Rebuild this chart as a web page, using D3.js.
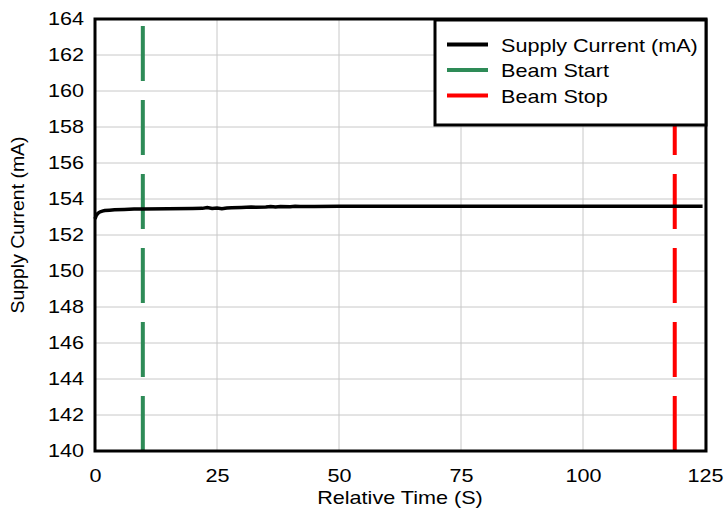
<!DOCTYPE html>
<html><head><meta charset="utf-8">
<script src="https://cdn.jsdelivr.net/npm/d3@7"></script>
<style>body{margin:0;background:#fff}svg{display:block;font-family:"Liberation Sans",Arial,sans-serif}</style>
</head><body><svg id="c" width="726" height="512"></svg>
<script>
const timeS = [0,0.3,0.6,1,1.5,2,3,4,6,8,10,15,20,22,23,24,25,26,27,28,30,32,33,35,36,37,38,40,41,42,45,50,60,70,80,90,100,110,118,124.5];
const currentMA = [152.9,153.1,153.2,153.28,153.33,153.36,153.38,153.4,153.42,153.44,153.45,153.46,153.47,153.48,153.52,153.47,153.5,153.46,153.5,153.52,153.53,153.55,153.54,153.56,153.58,153.55,153.58,153.57,153.6,153.58,153.59,153.6,153.6,153.6,153.6,153.6,153.6,153.6,153.6,153.6];
const beamStart = 9.8, beamStop = 118.8;
const xTicks = [0,25,50,75,100,125];
const yTicks = [140,142,144,146,148,150,152,154,156,158,160,162,164];
const legendLabels = ["Supply Current (mA)","Beam Start","Beam Stop"];
const colors = ["#000000","#2e8b57","#ff0000"];

const SX = 1.2; // horizontal stretch of the reference text
const svg = d3.select("#c");
const L=95,R=705,T=19,B=451;
const x = d3.scaleLinear().domain([0,125]).range([L,R]);
const y = d3.scaleLinear().domain([140,164]).range([B,T]);

// grid
svg.append("g").selectAll("line").data(xTicks).join("line")
  .attr("x1",d=>x(d)).attr("x2",d=>x(d)).attr("y1",T).attr("y2",B)
  .attr("stroke","#c8c8c8").attr("stroke-width",1);
svg.append("g").selectAll("line").data(yTicks).join("line")
  .attr("x1",L).attr("x2",R).attr("y1",d=>y(d)).attr("y2",d=>y(d))
  .attr("stroke","#c8c8c8").attr("stroke-width",1);

// beam lines (drawn bottom to top)
[[beamStart,colors[1]],[beamStop,colors[2]]].forEach(([v,c])=>{
  svg.append("line").attr("x1",x(v)).attr("x2",x(v)).attr("y1",y(140)).attr("y2",y(164))
    .attr("stroke",c).attr("stroke-width",4).attr("stroke-dasharray","55,19");
});

// data line
svg.append("path").datum(timeS.map((t,i)=>[t,currentMA[i]]))
  .attr("fill","none").attr("stroke","#000").attr("stroke-width",3.5)
  .attr("d",d3.line().x(d=>x(d[0])).y(d=>y(d[1])));

// frame
svg.append("rect").attr("x",L).attr("y",T).attr("width",R-L+1).attr("height",B-T)
  .attr("fill","none").attr("stroke","#000").attr("stroke-width",3);

// axes
const xa = svg.append("g").attr("transform",`translate(0,${B})`)
  .call(d3.axisBottom(x).tickValues(xTicks).tickSize(0).tickPadding(18));
xa.select(".domain").remove();
xa.selectAll("text").attr("font-size",18).attr("font-family","Liberation Sans, Arial, sans-serif")
  .attr("fill","#000").attr("transform",`scale(${SX},1)`);
const ya = svg.append("g").attr("transform",`translate(${L},0)`)
  .call(d3.axisLeft(y).tickValues(yTicks).tickSize(0).tickPadding(0));
ya.select(".domain").remove();
ya.selectAll(".tick text").attr("x",0).attr("font-size",18).attr("font-family","Liberation Sans, Arial, sans-serif")
  .attr("fill","#000").attr("transform",`translate(-11,0) scale(${SX},1)`);

svg.append("text").attr("transform",`translate(${(L+R)/2},504) scale(${SX},1)`).attr("text-anchor","middle")
  .attr("font-size",18).text("Relative Time (S)");
svg.append("text").attr("transform",`translate(24,225) rotate(-90) scale(1.08,1)`).attr("text-anchor","middle")
  .attr("font-size",18).text("Supply Current (mA)");

// legend
const lg = svg.append("g");
lg.append("rect").attr("x",435).attr("y",20).attr("width",271).attr("height",105)
  .attr("fill","#fff").attr("stroke","#000").attr("stroke-width",3);
legendLabels.forEach((lab,i)=>{
  const cy = 44.5 + i*25.5;
  lg.append("line").attr("x1",447).attr("x2",488).attr("y1",cy).attr("y2",cy)
    .attr("stroke",colors[i]).attr("stroke-width",4);
  lg.append("text").attr("transform",`translate(501,${cy+7}) scale(${SX},1)`).attr("font-size",18).text(lab);
});
</script></body></html>
